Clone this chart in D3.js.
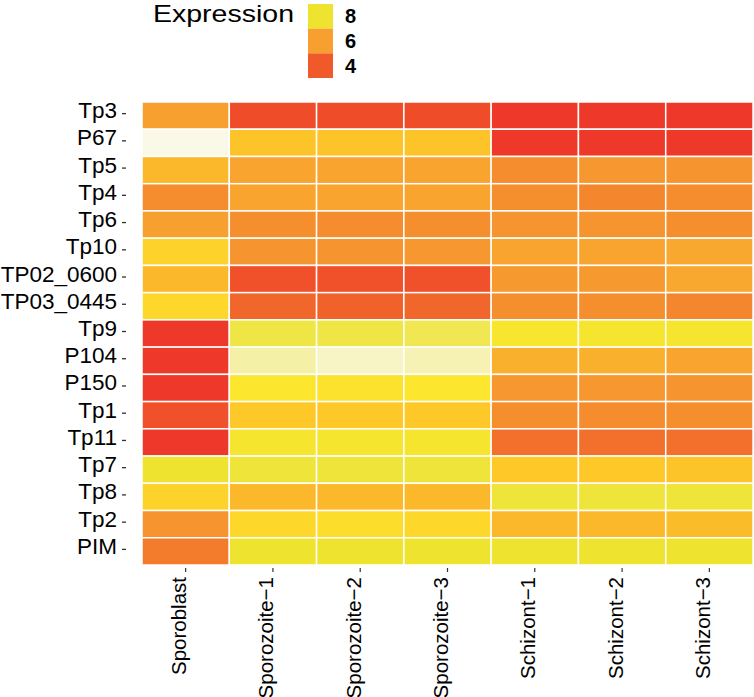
<!DOCTYPE html>
<html>
<head>
<meta charset="utf-8">
<script src="https://cdn.jsdelivr.net/npm/d3@7"></script>
<style>
  body { margin: 0; background: #fff; }
  text { font-family: "Liberation Sans", Arial, Helvetica, sans-serif; }
</style>
</head>
<body>
<div id="heatmap"></div>
<script>
// samples (columns) and genes (rows, top to bottom)
var samples = ["Sporoblast", "Sporozoite\u22121", "Sporozoite\u22122", "Sporozoite\u22123",
               "Schizont\u22121", "Schizont\u22122", "Schizont\u22123"];
var genes = ["Tp3", "P67", "Tp5", "Tp4", "Tp6", "Tp10", "TP02_0600", "TP03_0445",
             "Tp9", "P104", "P150", "Tp1", "Tp11", "Tp7", "Tp8", "Tp2", "PIM"];

// expression per gene, same order as samples
var Tp3       = [6.0, 3.7, 3.7, 3.7, 3.2, 3.2, 3.2];
var P67       = [10.0, 6.9, 6.9, 6.9, 3.2, 3.2, 3.2];
var Tp5       = [6.6, 6.1, 6.1, 6.1, 5.3, 5.7, 5.6];
var Tp4       = [5.3, 6.1, 6.1, 6.1, 5.4, 5.1, 5.3];
var Tp6       = [6.0, 5.4, 5.3, 5.4, 5.6, 5.6, 5.4];
var Tp10      = [7.2, 5.6, 5.6, 5.7, 6.1, 6.1, 6.2];
var TP02_0600 = [6.6, 3.8, 3.8, 3.8, 5.8, 5.8, 6.2];
var TP03_0445 = [7.3, 4.3, 4.2, 4.3, 5.4, 5.4, 5.1];
var Tp9       = [3.2, 8.2, 8.2, 8.3, 7.7, 7.8, 7.8];
var P104      = [3.2, 9.0, 9.5, 9.2, 6.4, 6.4, 6.1];
var P150      = [3.2, 7.6, 7.5, 7.6, 5.7, 5.7, 5.6];
var Tp1       = [3.8, 7.0, 7.0, 7.0, 5.4, 5.3, 5.4];
var Tp11      = [3.2, 7.8, 7.8, 7.8, 4.5, 4.5, 4.5];
var Tp7       = [8.0, 8.1, 8.1, 8.1, 7.0, 7.0, 6.9];
var Tp8       = [7.2, 6.6, 6.6, 6.6, 8.1, 8.1, 8.1];
var Tp2       = [5.6, 7.3, 7.4, 7.3, 6.6, 6.6, 6.7];
var PIM       = [4.8, 8.0, 8.0, 8.0, 8.0, 8.0, 8.0];

var legendValues = [8, 6, 4];

var rows = [Tp3, P67, Tp5, Tp4, Tp6, Tp10, TP02_0600, TP03_0445,
            Tp9, P104, P150, Tp1, Tp11, Tp7, Tp8, Tp2, PIM];

var cells = [];
rows.forEach(function(vals, i) {
    vals.forEach(function(v, j) {
        cells.push({gene: genes[i], sample: samples[j], value: v});
    });
});

var W = 754, H = 697;
var margin = {top: 102, right: 1, bottom: 132, left: 142};

var svg = d3.select("#heatmap")
  .append("svg")
    .attr("width", W)
    .attr("height", H);

var x = d3.scaleBand()
    .domain(samples)
    .range([margin.left, W - margin.right]);

var y = d3.scaleBand()
    .domain(genes)
    .range([margin.top, H - margin.bottom]);

// heat-style colours: red (low) -> orange -> yellow -> pale cream (high)
var color = d3.scaleLinear()
    .domain([3, 4, 5, 6, 7, 7.6, 8, 9, 10])
    .range(["#ee2f29", "#f05a2a", "#f4842d", "#f7a030", "#fdc828",
            "#fce72e", "#eee32e", "#f4f0a6", "#faf8e6"])
    .clamp(true);

svg.append("g")
  .selectAll("rect")
  .data(cells)
  .enter().append("rect")
    .attr("x", function(d) { return x(d.sample); })
    .attr("y", function(d) { return y(d.gene); })
    .attr("width", x.bandwidth())
    .attr("height", y.bandwidth())
    .attr("fill", function(d) { return color(d.value); })
    .attr("stroke", "#fff")
    .attr("stroke-width", 1.5);

// y axis labels with small ticks
var yAx = svg.append("g");
yAx.selectAll("text")
  .data(genes)
  .enter().append("text")
    .attr("x", 117)
    .attr("y", function(d) { return y(d) + y.bandwidth() / 2 + 2.5; })
    .attr("text-anchor", "end")
    .attr("font-size", 22.5)
    .attr("fill", "#000")
    .text(function(d) { return d; });
yAx.selectAll("line")
  .data(genes)
  .enter().append("line")
    .attr("x1", 122).attr("x2", 126)
    .attr("y1", function(d) { return y(d) + y.bandwidth() / 2 - 2; })
    .attr("y2", function(d) { return y(d) + y.bandwidth() / 2 - 2; })
    .attr("stroke", "#333")
    .attr("stroke-width", 1.3);

// x axis ticks and rotated labels
var xAx = svg.append("g");
var y0 = H - margin.bottom;
xAx.selectAll("line")
  .data(samples)
  .enter().append("line")
    .attr("x1", function(d) { return x(d) + x.bandwidth() / 2; })
    .attr("x2", function(d) { return x(d) + x.bandwidth() / 2; })
    .attr("y1", y0 + 3).attr("y2", y0 + 7)
    .attr("stroke", "#333")
    .attr("stroke-width", 1.2);
xAx.selectAll("text")
  .data(samples)
  .enter().append("text")
    .attr("transform", function(d) {
        return "translate(" + (x(d) + x.bandwidth() / 2 + 0.5) + "," + (y0 + 12) + ") rotate(-90)";
    })
    .attr("text-anchor", "end")
    .attr("font-size", 20.5)
    .attr("fill", "#000")
    .text(function(d) { return d; });

// legend
var leg = svg.append("g");
leg.append("text")
    .attr("x", 153)
    .attr("y", 22)
    .attr("font-size", 24)
    .attr("textLength", 141)
    .attr("lengthAdjust", "spacingAndGlyphs")
    .text("Expression");

var ly = d3.scaleBand()
    .domain(legendValues)
    .range([4, 78]);

leg.selectAll("rect")
  .data(legendValues)
  .enter().append("rect")
    .attr("x", 308)
    .attr("y", function(d) { return ly(d); })
    .attr("width", 25)
    .attr("height", ly.bandwidth())
    .attr("fill", function(d) { return color(d); });

leg.selectAll("text.lab")
  .data(legendValues)
  .enter().append("text")
    .attr("class", "lab")
    .attr("x", 345)
    .attr("y", function(d) { return ly(d) + ly.bandwidth() / 2 + 7; })
    .attr("font-size", 20)
    .attr("font-weight", "bold")
    .text(function(d) { return d; });
</script>
</body>
</html>
